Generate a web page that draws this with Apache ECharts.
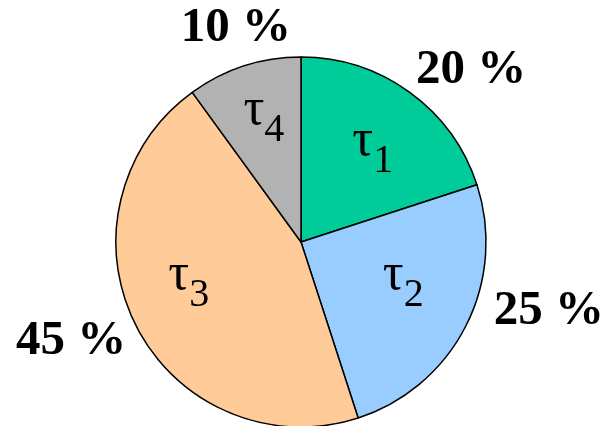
<!DOCTYPE html>
<html>
<head>
<meta charset="utf-8">
<script src="https://cdn.jsdelivr.net/npm/echarts@6/dist/echarts.min.js"></script>
<style>
  html, body { margin: 0; padding: 0; background: #fff; }
  #chart { width: 605px; height: 426px; }
</style>
</head>
<body>
<div id="chart"></div>
<script>
// Task shares (percent), clockwise from twelve o'clock
const taskNames = ['τ1', 'τ2', 'τ3', 'τ4'];
const taskShares = [20, 25, 45, 10];

const sliceColors = ['#00CC99', '#99CCFF', '#FFCC99', '#B2B2B2'];

// Label rings (radius in px) and small per-label nudges (px)
const nameRing = 117;
const shareRing = 240;
const nameLabelNudge = [[3, 1], [-2, -13], [-8, -13], [-1, -13]];
const shareLabelNudge = [[29, 23], [34, -40], [-16, -10], [9, 15]];

const center = [301, 242];
const outerR = 185;
const serif = '"Liberation Serif", "Times New Roman", serif';

// Mid angle of each slice, measured clockwise from the top
const total = taskShares.reduce((a, b) => a + b, 0);
let acc = 0;
const midAngles = taskShares.map(v => {
  const mid = (acc + v / 2) / total * 2 * Math.PI;
  acc += v;
  return mid;
});

function ringAnchor(i, ring, nudge) {
  const a = midAngles[i];
  return {
    x: center[0] + ring * Math.sin(a) + nudge[i][0],
    y: center[1] - ring * Math.cos(a) + nudge[i][1],
    align: 'center',
    verticalAlign: 'middle'
  };
}

const sliceData = taskNames.map((n, i) => ({
  name: n, value: taskShares[i],
  itemStyle: { color: sliceColors[i] }
}));

const labelData = taskNames.map((n, i) => ({ name: n, value: taskShares[i] }));

const chart = echarts.init(document.getElementById('chart'), null, { renderer: 'canvas' });

const base = {
  type: 'pie',
  center: center,
  startAngle: 90,
  clockwise: true,
  animation: false,
  avoidLabelOverlap: false,
  silent: true,
  labelLine: { show: false }
};

chart.setOption({
  backgroundColor: '#ffffff',
  series: [
    Object.assign({}, base, {
      radius: [0, outerR],
      itemStyle: { borderColor: '#000', borderWidth: 1.5 },
      label: { show: false },
      data: sliceData
    }),
    Object.assign({}, base, {
      radius: [0, outerR],
      itemStyle: { color: 'rgba(0,0,0,0)', borderWidth: 0 },
      label: {
        show: true,
        position: 'inside',
        color: '#000',
        formatter: p => '{t|' + p.name.charAt(0) + '}{s|' + p.name.slice(1) + '}',
        rich: {
          t: { fontFamily: serif, fontSize: 52, lineHeight: 44, verticalAlign: 'top', color: '#000' },
          s: { fontFamily: serif, fontSize: 40, lineHeight: 66, verticalAlign: 'bottom', color: '#000' }
        }
      },
      labelLayout: p => ringAnchor(p.dataIndex, nameRing, nameLabelNudge),
      data: labelData
    }),
    Object.assign({}, base, {
      radius: [0, outerR],
      itemStyle: { color: 'rgba(0,0,0,0)', borderWidth: 0 },
      label: {
        show: true,
        position: 'inside',
        color: '#000',
        fontFamily: serif,
        fontWeight: 'bold',
        fontSize: 49,
        formatter: p => p.value + ' %'
      },
      labelLayout: p => ringAnchor(p.dataIndex, shareRing, shareLabelNudge),
      data: labelData
    })
  ]
});
</script>
</body>
</html>
